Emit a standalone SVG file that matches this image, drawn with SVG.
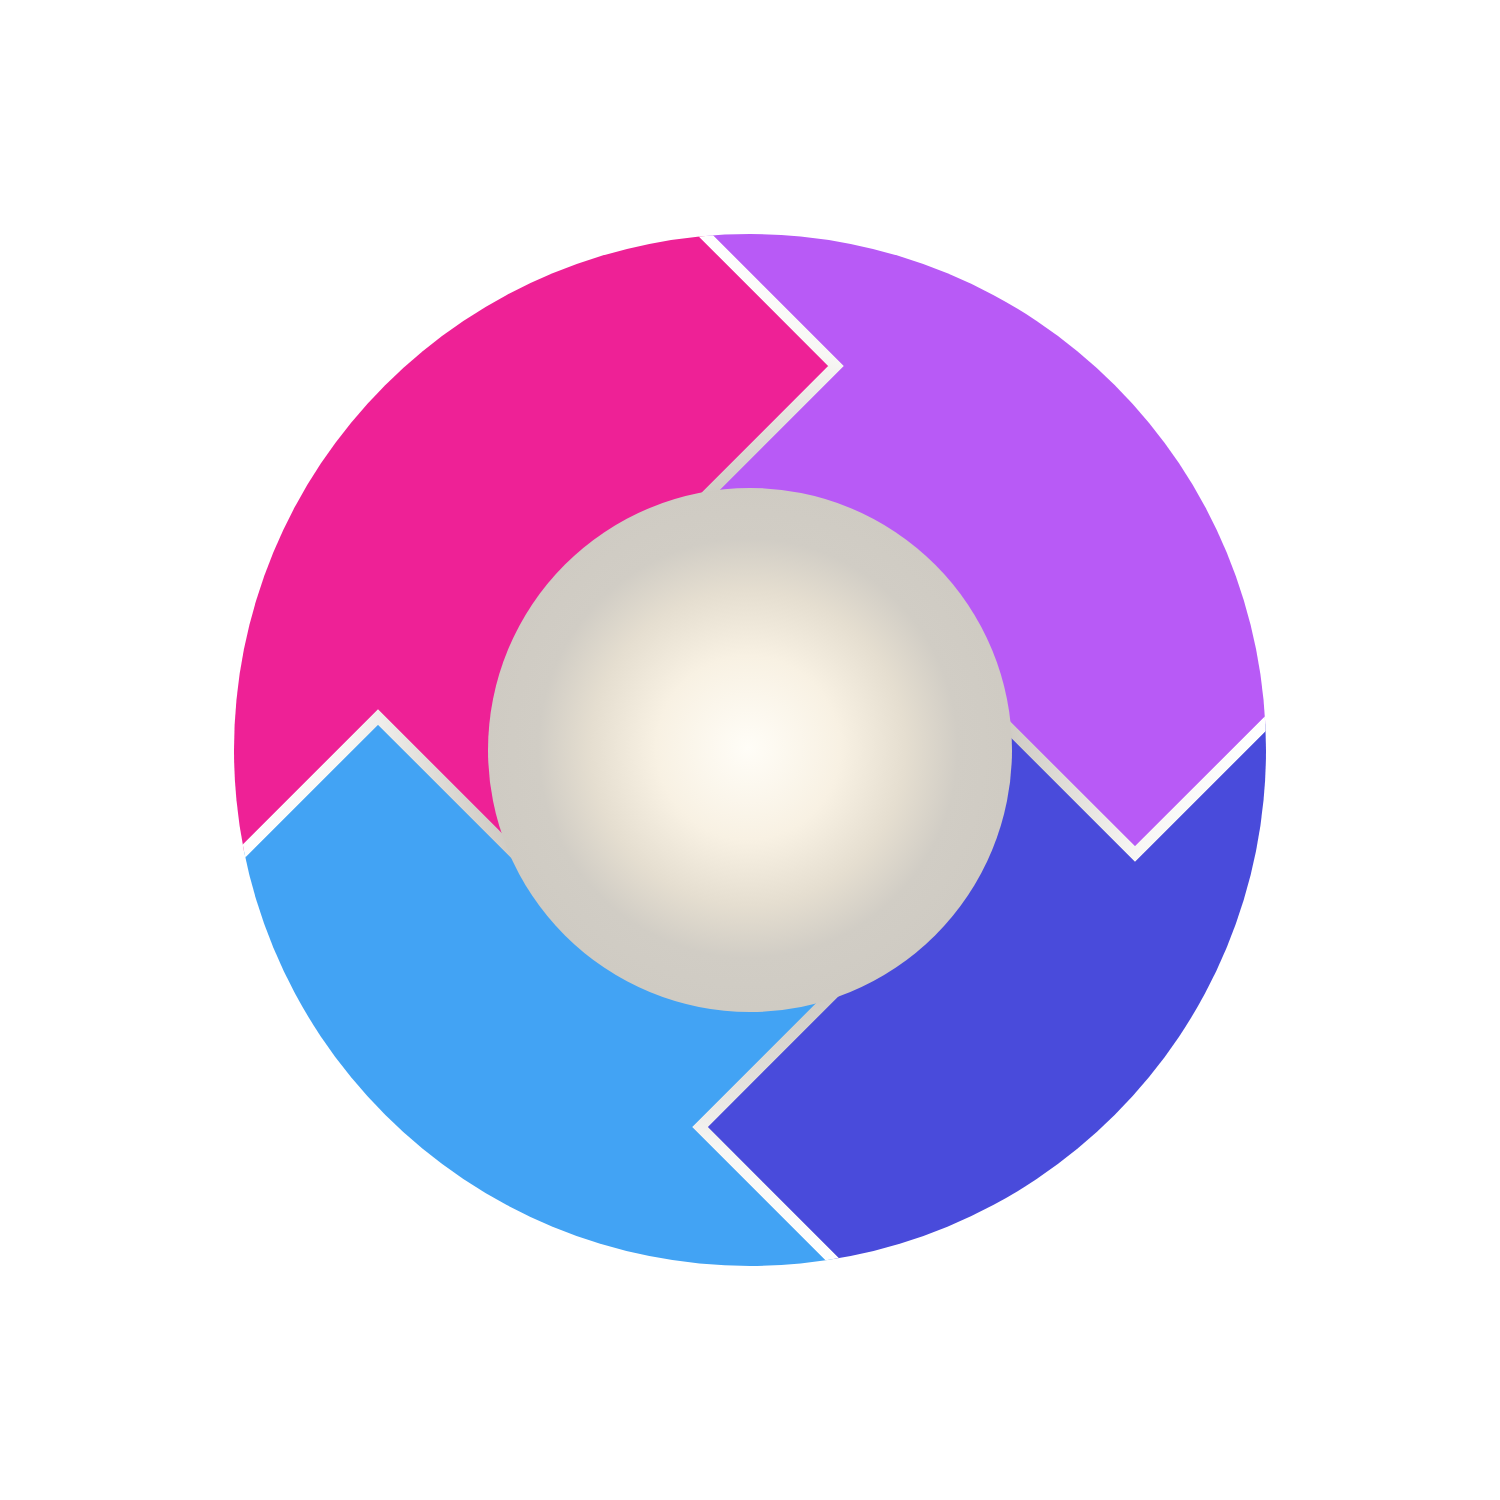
<svg xmlns="http://www.w3.org/2000/svg" width="1500" height="1500" viewBox="0 0 1500 1500">
  <defs>
    <clipPath id="disc">
      <circle cx="750" cy="750" r="516"/>
    </clipPath>
    <radialGradient id="gapGrad" gradientUnits="userSpaceOnUse" cx="750" cy="750" r="516">
      <stop offset="0" stop-color="#cfcbc4"/>
      <stop offset="0.5" stop-color="#cfcbc4"/>
      <stop offset="0.78" stop-color="#f8f7f5"/>
      <stop offset="1" stop-color="#ffffff"/>
    </radialGradient>
    <radialGradient id="hubGrad" gradientUnits="userSpaceOnUse" cx="748" cy="748" r="262">
      <stop offset="0" stop-color="#fffdf7"/>
      <stop offset="0.35" stop-color="#f8f1e3"/>
      <stop offset="0.6" stop-color="#e5ded0"/>
      <stop offset="0.8" stop-color="#d1cdc5"/>
      <stop offset="1" stop-color="#cfcbc3"/>
    </radialGradient>
    <style>
      .sep { fill: none; stroke: url(#gapGrad); stroke-width: 11; stroke-linejoin: miter; stroke-miterlimit: 10; }
    </style>
  </defs>
  <rect width="1500" height="1500" fill="#ffffff"/>
  <g clip-path="url(#disc)">
    <g id="segment-pink">
      <polygon fill="#ee2196" points="750,750 505,844 378,717 -22,1117 -400,-400 436,-34 836,366 712,490"/>
    </g>
    <g id="segment-purple">
      <polygon fill="#b85af6" points="750,750 712,490 836,366 436,-34 2000,-400 1735,254 1135,854 1010,729"/>
    </g>
    <g id="segment-indigo">
      <polygon fill="#494bdb" points="750,750 1010,729 1135,854 1735,254 2000,2000 1400,1827 700,1127 828,999"/>
    </g>
    <g id="segment-blue">
      <polygon fill="#42a3f4" points="750,750 828,999 700,1127 1400,1827 -400,2000 -122,1217 378,717 505,844"/>
    </g>
    <g id="separators">
      <polyline class="sep" points="436,-34 836,366 672,530"/>
      <polyline class="sep" points="1735,254 1135,854 970,689"/>
      <polyline class="sep" points="1400,1827 700,1127 868,959"/>
      <polyline class="sep" points="-122,1217 378,717 545,884"/>
    </g>
  </g>
  <g id="hub">
    <circle cx="750" cy="750" r="262" fill="url(#hubGrad)"/>
  </g>
</svg>
